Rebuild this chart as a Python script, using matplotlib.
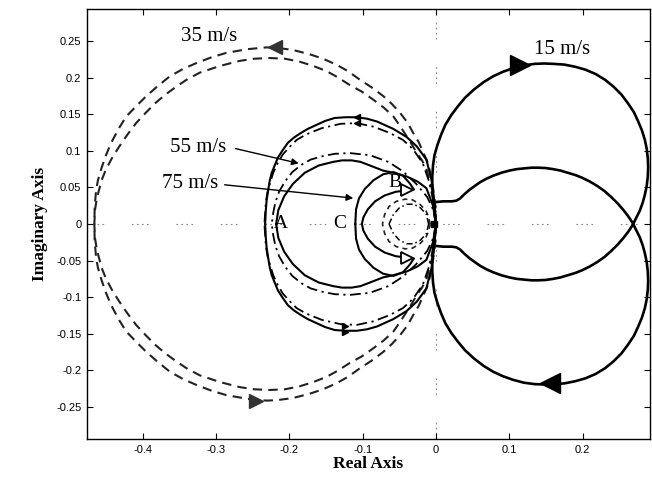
import matplotlib
matplotlib.use("Agg")
import matplotlib.pyplot as plt
import numpy as np

# ---------------- data (upper / positive branch, mirrored for the other half) -------------
# 15 m/s (solid, thick)
x15 = [0.000, 0.010, 0.022, 0.028, 0.033, 0.038, 0.046, 0.053, 0.060, 0.069, 0.078, 0.089,
       0.100, 0.110, 0.120, 0.130, 0.140, 0.150, 0.160, 0.170, 0.180, 0.190, 0.200, 0.210,
       0.220, 0.230, 0.240, 0.248, 0.255, 0.262, 0.268, 0.273, 0.278, 0.282, 0.285, 0.2875,
       0.289, 0.2895, 0.289, 0.2875, 0.285, 0.281, 0.276, 0.270, 0.262, 0.253, 0.242, 0.231,
       0.218, 0.204, 0.190, 0.175, 0.160, 0.148, 0.135, 0.120, 0.105, 0.091, 0.078, 0.065,
       0.052, 0.040, 0.030, 0.021, 0.013, 0.007, 0.002, -0.002, -0.004, -0.005, -0.005,
       -0.004, -0.003, -0.001, 0.000]
y15 = [0.030, 0.031, 0.031, 0.032, 0.035, 0.040, 0.047, 0.052, 0.057, 0.062, 0.066, 0.070,
       0.073, 0.075, 0.076, 0.077, 0.077, 0.0765, 0.075, 0.073, 0.070, 0.067, 0.063, 0.058,
       0.052, 0.045, 0.036, 0.028, 0.020, 0.011, 0.002, -0.008, -0.018, -0.029, -0.040, -0.052,
       -0.065, -0.078, -0.090, -0.103, -0.115, -0.128, -0.140, -0.153, -0.165, -0.177, -0.188,
       -0.197, -0.205, -0.211, -0.215, -0.218, -0.219, -0.2195, -0.219, -0.217, -0.213, -0.208,
       -0.202, -0.194, -0.184, -0.173, -0.161, -0.149, -0.136, -0.122, -0.108, -0.094, -0.080,
       -0.065, -0.050, -0.037, -0.025, -0.012, 0.000]

# 35 m/s (dashed) outer and inner loops, upper halves
x35_outer = [0.000, -0.001, -0.004, -0.009, -0.012, -0.017, -0.023, -0.031, -0.039, -0.049,
             -0.060, -0.072, -0.088, -0.104, -0.120, -0.136, -0.154, -0.172, -0.195, -0.218,
             -0.231, -0.258, -0.286, -0.306, -0.327, -0.345, -0.363, -0.379, -0.395, -0.409,
             -0.4225, -0.433, -0.443, -0.451, -0.457, -0.461, -0.4635, -0.4655, -0.466]
y35_outer = [0.000, 0.025, 0.050, 0.075, 0.086, 0.097, 0.111, 0.1245, 0.139, 0.152,
             0.164, 0.175, 0.187, 0.1975, 0.209, 0.218, 0.226, 0.232, 0.238, 0.241,
             0.2415, 0.239, 0.234, 0.228, 0.220, 0.212, 0.202, 0.189, 0.175, 0.161,
             0.147, 0.130, 0.111, 0.092, 0.074, 0.060, 0.047, 0.024, 0.000]
x35_inner = [0.000, -0.001, -0.006, -0.013, -0.019, -0.026, -0.033, -0.040, -0.049, -0.058,
             -0.071, -0.0855, -0.101, -0.1175, -0.133, -0.149, -0.167, -0.186, -0.206, -0.227,
             -0.248, -0.268, -0.295, -0.322, -0.339, -0.354, -0.369, -0.382, -0.396, -0.409,
             -0.421, -0.432, -0.442, -0.450, -0.456, -0.460, -0.463, -0.465, -0.466]
y35_inner = [0.000, 0.025, 0.050, 0.075, 0.087, 0.097, 0.109, 0.120, 0.134, 0.147,
             0.159, 0.170, 0.181, 0.190, 0.200, 0.209, 0.216, 0.222, 0.226, 0.227,
             0.226, 0.223, 0.216, 0.207, 0.198, 0.188, 0.177, 0.166, 0.152, 0.138,
             0.122, 0.106, 0.090, 0.075, 0.060, 0.045, 0.032, 0.020, 0.000]
x35_small = [-0.008, -0.010, -0.014, -0.022, -0.032, -0.042, -0.054, -0.064, -0.070, -0.073]
y35_small = [0.000, 0.010, 0.019, 0.027, 0.033, 0.034, 0.031, 0.024, 0.013, 0.000]

# 55 m/s (dash-dot)
x55_outer = [0.000, -0.003, -0.010, -0.018, -0.031, -0.045, -0.063, -0.085, -0.108, -0.130,
             -0.156, -0.177, -0.190, -0.200, -0.209, -0.216, -0.222, -0.226, -0.230, -0.232,
             -0.234]
y55_outer = [0.000, 0.030, 0.060, 0.083, 0.102, 0.115, 0.1245, 0.133, 0.138, 0.137,
             0.131, 0.1225, 0.115, 0.105, 0.095, 0.083, 0.070, 0.057, 0.043, 0.030,
             0.000]
x55_inner = [0.000, -0.004, -0.012, -0.027, -0.045, -0.065, -0.090, -0.1175, -0.138, -0.156,
             -0.171, -0.1835, -0.196, -0.206, -0.214, -0.219, -0.222, -0.224]
y55_inner = [0.000, 0.020, 0.037, 0.055, 0.072, 0.085, 0.094, 0.097, 0.096, 0.0925,
             0.088, 0.081, 0.071, 0.058, 0.044, 0.030, 0.015, 0.000]
x55_small = [-0.010, -0.013, -0.021, -0.030, -0.040, -0.050, -0.058, -0.064]
y55_small = [0.000, 0.013, 0.022, 0.027, 0.027, 0.022, 0.013, 0.000]

# 75 m/s (solid)
x75_big = [0.000, -0.002, -0.006, -0.013, -0.026, -0.040, -0.058, -0.080, -0.094, -0.108,
           -0.123, -0.138, -0.151, -0.163, -0.175, -0.185, -0.194, -0.202, -0.209, -0.2155,
           -0.220, -0.224, -0.227, -0.229, -0.231, -0.232, -0.233]
y75_big = [0.000, 0.030, 0.060, 0.088, 0.106, 0.119, 0.130, 0.140, 0.144, 0.146,
           0.146, 0.145, 0.141, 0.1355, 0.130, 0.124, 0.118, 0.111, 0.101, 0.091,
           0.080, 0.070, 0.058, 0.045, 0.032, 0.020, 0.000]
x75_mid = [0.000, -0.004, -0.013, -0.025, -0.040, -0.058, -0.072, -0.090, -0.103, -0.115,
           -0.128, -0.140, -0.160, -0.179, -0.195, -0.207, -0.215, -0.218]
y75_mid = [0.000, 0.025, 0.049, 0.058, 0.065, 0.070, 0.073, 0.080, 0.085, 0.087,
           0.087, 0.085, 0.080, 0.070, 0.055, 0.038, 0.019, 0.000]
x75_cres = [-0.110, -0.109, -0.105, -0.097, -0.085, -0.072, -0.058, -0.045, -0.036, -0.030,
            -0.040, -0.055, -0.070, -0.083, -0.093, -0.099, -0.101]
y75_cres = [0.000, 0.020, 0.035, 0.048, 0.060, 0.068, 0.071, 0.066, 0.056, 0.047,
            0.046, 0.044, 0.039, 0.031, 0.020, 0.009, 0.000]

xticks = [-0.4, -0.3, -0.2, -0.1, 0, 0.1, 0.2]
xticklabels = ["-0.4", "-0.3", "-0.2", "-0.1", "0", "0.1", "0.2"]
yticks = [0.25, 0.2, 0.15, 0.1, 0.05, 0, -0.05, -0.1, -0.15, -0.2, -0.25]
yticklabels = ["0.25", "0.2", "0.15", "0.1", "0.05", "0", "-0.05", "-0.1", "-0.15", "-0.2", "-0.25"]

# ---------------- drawing -------------
serif = "Liberation Serif"
fig = plt.figure(figsize=(6.52, 4.78), dpi=100)
ax = fig.add_axes([87 / 652, 1 - 439 / 478, (650 - 87) / 652, (439 - 9) / 478])
ax.set_xlim(-0.476, 0.292)
ax.set_ylim(-0.294, 0.294)

grid_ls = (0, (1.5, 3, 1.5, 3, 1.5, 3, 1.5, 25))
ax.axhline(0, color="#888888", lw=0.8, ls=grid_ls, zorder=0)
ax.axvline(0, color="#888888", lw=0.8, ls=grid_ls, zorder=0)

def both(x, y, **kw):
    x = np.asarray(x); y = np.asarray(y)
    ax.plot(x, y, **kw)
    ax.plot(x, -y, **kw)

k = "black"
both(x15, y15, color=k, lw=1.9, solid_joinstyle="round")
dash35 = (0, (4.5, 3))
both(x35_outer, y35_outer, color="#222222", lw=1.5, ls=dash35)
both(x35_inner, y35_inner, color="#222222", lw=1.5, ls=dash35)
both(x35_small, y35_small, color="#222222", lw=1.2, ls=(0, (3, 2.5)))
dd55 = (0, (6, 2.5, 1.2, 2.5))
both(x55_outer, y55_outer, color=k, lw=1.3, ls=dd55)
both(x55_inner, y55_inner, color=k, lw=1.3, ls=dd55)
both(x55_small, y55_small, color=k, lw=1.1, ls=(0, (4, 2, 1, 2)))
both(x75_big, y75_big, color=k, lw=1.5, solid_joinstyle="round")
both(x75_mid, y75_mid, color=k, lw=1.5, solid_joinstyle="round")
both(x75_cres, y75_cres, color=k, lw=1.5, solid_joinstyle="round")

# direction arrows
ax.plot(0.115, 0.218, marker=">", ms=15, color=k, mec=k)
ax.plot(0.156, -0.218, marker="<", ms=15, color=k, mec=k)
ax.plot(-0.220, 0.2415, marker="<", ms=10, color="#333333")
ax.plot(-0.245, -0.2415, marker=">", ms=10, color="#333333")
ax.plot(-0.108, 0.146, marker="<", ms=5, color=k)
ax.plot(-0.124, -0.147, marker=">", ms=5, color=k)
ax.plot(-0.108, 0.138, marker="<", ms=4, color=k)
ax.plot(-0.124, -0.140, marker=">", ms=4, color=k)
ax.plot(-0.040, 0.047, marker=">", ms=8, color=k, mfc="white", mew=1.3)
ax.plot(-0.040, -0.047, marker=">", ms=8, color=k, mfc="white", mew=1.3)
ax.plot(-0.002, 0.0, marker="s", ms=4, color=k)

# labels
ax.text(0.172, 0.239, "15 m/s", family=serif, fontsize=15, ha="center", va="center")
ax.text(-0.309, 0.257, "35 m/s", family=serif, fontsize=15, ha="center", va="center")
ax.text(-0.324, 0.104, "55 m/s", family=serif, fontsize=15, ha="center", va="center")
ax.text(-0.335, 0.055, "75 m/s", family=serif, fontsize=15, ha="center", va="center")
ax.annotate("", xy=(-0.1835, 0.082), xytext=(-0.277, 0.104),
            arrowprops=dict(arrowstyle="-|>", color=k, lw=1.0, mutation_scale=10))
ax.annotate("", xy=(-0.109, 0.035), xytext=(-0.292, 0.054),
            arrowprops=dict(arrowstyle="-|>", color=k, lw=1.0, mutation_scale=10))
ax.text(-0.211, 0.0, "A", family=serif, fontsize=14, ha="center", va="center")
ax.text(-0.131, 0.0, "C", family=serif, fontsize=14, ha="center", va="center")
ax.text(-0.056, 0.057, "B", family=serif, fontsize=14, ha="center", va="center")

ax.set_xticks(xticks)
ax.set_xticklabels(xticklabels)
ax.set_yticks(yticks)
ax.set_yticklabels(yticklabels)
ax.tick_params(direction="in", length=4, width=0.8, top=True, right=True,
               labelsize=8, pad=4)
for lab in ax.get_xticklabels() + ax.get_yticklabels():
    lab.set_family("Liberation Sans")
for s in ax.spines.values():
    s.set_linewidth(1.0)

ax.set_xlabel("Real Axis", family=serif, fontsize=12.5, fontweight="bold", labelpad=1)
ax.set_ylabel("Imaginary Axis", family=serif, fontsize=12.5, fontweight="bold", labelpad=6)

fig.savefig("out.png", dpi=100)
